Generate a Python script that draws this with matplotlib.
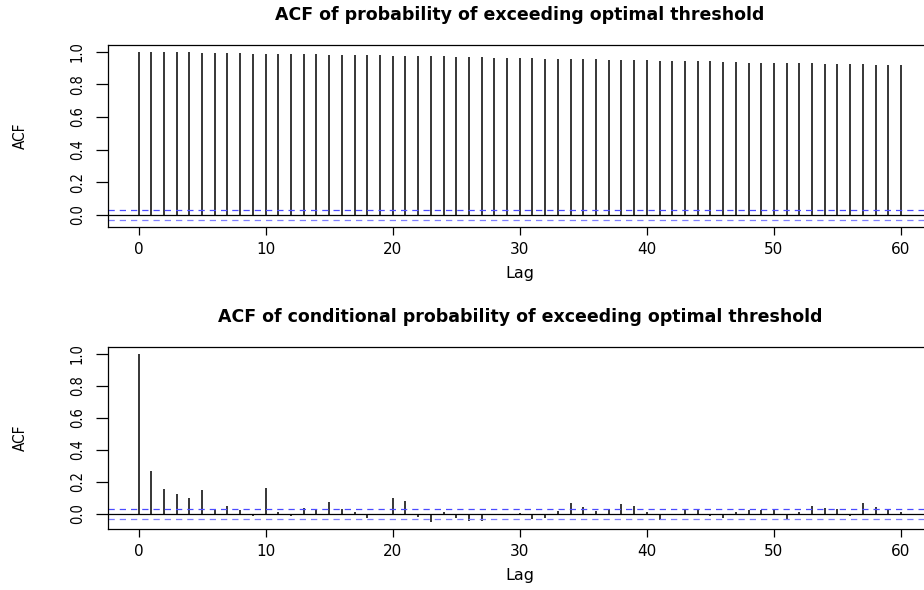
import numpy as np
import matplotlib
matplotlib.use("Agg")
import matplotlib.pyplot as plt

lags = np.arange(0, 61)

# ACF of probability of exceeding optimal threshold
acf_prob = [1.000, 0.999, 0.998, 0.998, 0.996, 0.994, 0.994, 0.992, 0.990, 0.988,
            0.988, 0.986, 0.986, 0.984, 0.984, 0.982, 0.980, 0.980, 0.977, 0.977,
            0.975, 0.973, 0.973, 0.971, 0.971, 0.969, 0.967, 0.965, 0.963, 0.959,
            0.959, 0.959, 0.957, 0.957, 0.955, 0.953, 0.953, 0.951, 0.949, 0.947,
            0.947, 0.945, 0.945, 0.943, 0.941, 0.941, 0.939, 0.936, 0.934, 0.932,
            0.932, 0.930, 0.928, 0.928, 0.926, 0.924, 0.924, 0.922, 0.920, 0.918,
            0.916]

# ACF of conditional probability of exceeding optimal threshold
acf_cond = [1.000, 0.268, 0.154, 0.123, 0.098, 0.148, 0.027, 0.052, 0.027, -0.010,
            0.162, 0.015, -0.015, 0.037, 0.027, 0.077, 0.031, 0.010, -0.027, 0.002,
            0.100, 0.081, -0.019, -0.052, 0.010, -0.025, -0.046, -0.046, 0.001, -0.004,
            0.008, -0.029, -0.025, 0.019, 0.067, 0.042, 0.017, 0.033, 0.062, 0.052,
            0.010, -0.040, 0.002, 0.031, 0.033, -0.012, -0.025, 0.010, 0.027, 0.027,
            0.027, -0.035, 0.015, 0.048, 0.037, 0.031, -0.015, 0.069, 0.044, 0.023,
            0.015]

titles = ["ACF of probability of exceeding optimal threshold",
          "ACF of conditional probability of exceeding optimal threshold"]
clim = 0.032

W, H = 924, 590
fig = plt.figure(figsize=(W / 100, H / 100), dpi=100)

def px(x0, y0, x1, y1):
    return [x0 / W, 1 - y1 / H, (x1 - x0) / W, (y1 - y0) / H]

boxes = [px(108, 45, 931.5, 227), px(108, 347, 931.5, 529)]

for box, vals, title in zip(boxes, [acf_prob, acf_cond], titles):
    ax = fig.add_axes(box)
    vals = np.array(vals)
    ax.vlines(lags, 0, vals, color="black", lw=1.1)
    ax.axhline(0, color="black", lw=0.9)
    ax.axhline(clim, color="#4a4aff", lw=0.9, ls=(0, (5, 4)))
    ax.axhline(-clim, color="#7f7fff", lw=0.9, ls=(0, (5, 4)))
    # R-style limits: data range plus 4% on each side
    lo, hi = min(vals.min(), -clim), max(vals.max(), clim)
    pad = 0.04 * (hi - lo)
    ax.set_ylim(lo - pad, hi + pad)
    ax.set_xlim(-2.4, 62.4)
    ax.set_xticks([0, 10, 20, 30, 40, 50, 60])
    ax.set_yticks([0.0, 0.2, 0.4, 0.6, 0.8, 1.0])
    ax.set_yticklabels(["0.0", "0.2", "0.4", "0.6", "0.8", "1.0"],
                       rotation=90, va="center", family="DejaVu Sans",
                       fontstretch="condensed", fontsize=10.5)
    for lbl in ax.get_xticklabels():
        lbl.set_family("DejaVu Sans")
        lbl.set_fontsize(11)
    ax.tick_params(axis="x", length=5.5, width=0.9, pad=5)
    ax.tick_params(axis="y", length=8.6, width=0.9, pad=8)
    for s in ax.spines.values():
        s.set_linewidth(0.9)
    ax.set_xlabel("Lag", family="DejaVu Sans", fontsize=11.5, labelpad=7)
    ax.set_ylabel("ACF", family="DejaVu Sans", fontstretch="condensed",
                  fontsize=11, labelpad=30)
    ax.set_title(title, fontsize=12.5, fontweight="bold", family="DejaVu Sans", pad=18)

fig.savefig("out.png", dpi=100)
